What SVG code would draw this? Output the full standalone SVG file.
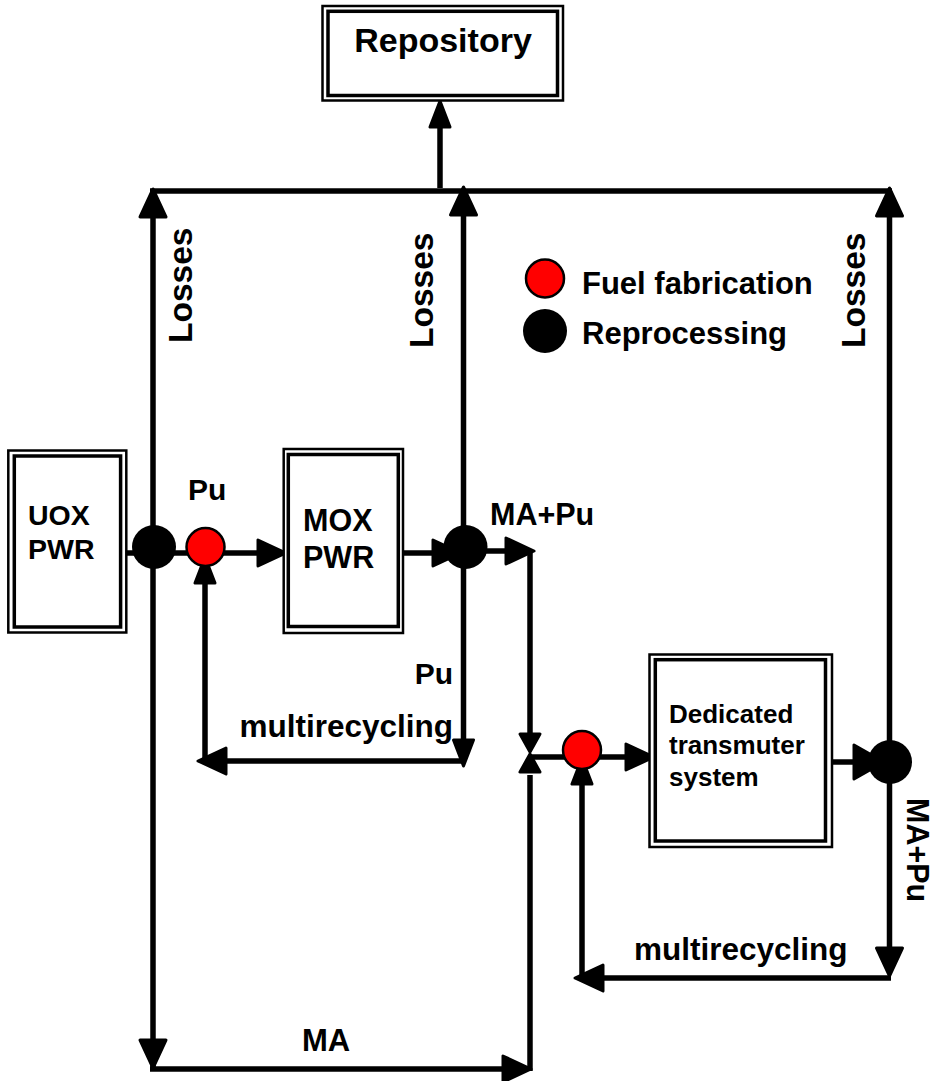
<svg xmlns="http://www.w3.org/2000/svg" xmlns:xlink="http://www.w3.org/1999/xlink" width="933" height="1081" viewBox="0 0 933 1081">
<style>
  .ln { stroke:#000; stroke-width:5.5; fill:none; }
  .ah { fill:#000; stroke:#000; stroke-width:3; stroke-linejoin:round; }
  .bo { fill:#fff; stroke:#000; stroke-width:2.5; }
  .bi { fill:none; stroke:#000; stroke-width:3.5; }
  .t { font-family:"Liberation Sans", Arial, Helvetica, sans-serif; font-weight:bold; fill:#000; }
  .rep { fill:#000; }
  .fab { fill:#ff0000; stroke:#000; stroke-width:2.5; }
</style>
<defs>
  <path id="ahL" class="ah" d="M0,0 L-28,-13 L-28,13 Z"/>
  <path id="ahS" class="ah" d="M0,0 L-26,-10 L-26,10 Z"/>
  <path id="ahW" class="ah" d="M0,0 L-30,-17 L-30,17 Z"/>
  <path id="ahB" class="ah" d="M0,0 L-18,-10 L-18,10 Z"/>
</defs>
<rect width="933" height="1081" fill="#fff"/>

<g id="connectors">
  <!-- top collector line -->
  <line class="ln" x1="150" y1="191" x2="892" y2="191"/>
  <!-- to repository -->
  <line class="ln" x1="440" y1="188" x2="440" y2="120"/>
  <use href="#ahS" transform="translate(440,101) rotate(-90)"/>
  <!-- left vertical (losses / MA) -->
  <line class="ln" x1="153" y1="191" x2="153" y2="1069"/>
  <use href="#ahL" transform="translate(153,189) rotate(-90)"/>
  <use href="#ahL" transform="translate(153,1068) rotate(90)"/>
  <!-- bottom MA line -->
  <line class="ln" x1="150" y1="1069" x2="510" y2="1069"/>
  <use href="#ahL" transform="translate(531,1069)"/>
  <line class="ln" x1="530" y1="1071" x2="530" y2="775"/>
  <use href="#ahB" transform="translate(530,754) rotate(-90)"/>
  <!-- middle vertical -->
  <line class="ln" x1="463.5" y1="191" x2="463.5" y2="745"/>
  <use href="#ahL" transform="translate(463.5,187) rotate(-90)"/>
  <use href="#ahS" transform="translate(463.5,766) rotate(90)"/>
  <!-- Pu multirecycling -->
  <line class="ln" x1="461" y1="761" x2="215" y2="761"/>
  <use href="#ahL" transform="translate(198,761) rotate(180)"/>
  <line class="ln" x1="205" y1="763" x2="205" y2="575"/>
  <use href="#ahS" transform="translate(205,557) rotate(-90)"/>
  <!-- UOX to fuel fabrication to MOX -->
  <line class="ln" x1="126" y1="553" x2="262" y2="553"/>
  <use href="#ahL" transform="translate(286,553)"/>
  <!-- MOX to reprocessing -->
  <line class="ln" x1="403" y1="553" x2="445" y2="553"/>
  <use href="#ahL" transform="translate(461,553)"/>
  <!-- MA+Pu out of MOX reprocessing -->
  <line class="ln" x1="466" y1="551" x2="512" y2="551"/>
  <use href="#ahL" transform="translate(534,551)"/>
  <line class="ln" x1="530" y1="549" x2="530" y2="735"/>
  <use href="#ahB" transform="translate(530,752) rotate(90)"/>
  <!-- into transmuter fuel fabrication -->
  <line class="ln" x1="530" y1="757" x2="582" y2="757"/>
  <line class="ln" x1="582" y1="757" x2="632" y2="757"/>
  <use href="#ahL" transform="translate(654,757)"/>
  <!-- transmuter to reprocessing -->
  <line class="ln" x1="832" y1="762" x2="858" y2="762"/>
  <use href="#ahW" transform="translate(884,762)"/>
  <!-- right vertical -->
  <line class="ln" x1="889.5" y1="191" x2="889.5" y2="960"/>
  <use href="#ahL" transform="translate(889.5,188) rotate(-90)"/>
  <use href="#ahL" transform="translate(889.5,976) rotate(90)"/>
  <!-- MA+Pu multirecycling -->
  <line class="ln" x1="891" y1="978" x2="598" y2="978"/>
  <use href="#ahL" transform="translate(575,978) rotate(180)"/>
  <line class="ln" x1="582" y1="980" x2="582" y2="775"/>
  <use href="#ahS" transform="translate(582,758) rotate(-90)"/>
</g>

<g id="repository">
  <rect class="bo" x="322.5" y="6" width="240.5" height="94.5"/>
  <rect class="bi" x="328" y="11.3" width="229.5" height="84.2"/>
  <text class="t" x="443" y="52" font-size="34" text-anchor="middle">Repository</text>
</g>

<g id="uox-pwr">
  <rect class="bo" x="8.3" y="450.5" width="118" height="182"/>
  <rect class="bi" x="14.3" y="456" width="106.3" height="171"/>
  <text class="t" x="28" y="525" font-size="28.5">UOX</text>
  <text class="t" x="28" y="559" font-size="28.5">PWR</text>
</g>

<g id="mox-pwr">
  <rect class="bo" x="283.7" y="449" width="119.3" height="184"/>
  <rect class="bi" x="288.3" y="454.5" width="110" height="172"/>
  <text class="t" x="303" y="531" font-size="30.5">MOX</text>
  <text class="t" x="303" y="568" font-size="30.5">PWR</text>
</g>

<g id="transmuter">
  <rect class="bo" x="649.5" y="654.5" width="182.5" height="192.5"/>
  <rect class="bi" x="655.3" y="659.7" width="170.2" height="181.3"/>
  <text class="t" x="669" y="723" font-size="26">Dedicated</text>
  <text class="t" x="669" y="754" font-size="26">transmuter</text>
  <text class="t" x="669" y="786" font-size="26">system</text>
</g>

<g id="reproc-uox"><circle class="rep" cx="154" cy="547" r="22"/></g>
<g id="fab-mox"><circle class="fab" cx="205.5" cy="547" r="19"/></g>
<g id="reproc-mox"><circle class="rep" cx="465.5" cy="547" r="22"/></g>
<g id="fab-transmuter"><circle class="fab" cx="582" cy="750" r="19"/></g>
<g id="reproc-transmuter"><circle class="rep" cx="890" cy="762" r="22"/></g>

<g id="legend">
  <circle class="fab" cx="545" cy="278.5" r="19"/>
  <circle class="rep" cx="545" cy="331" r="22"/>
  <text class="t" x="582" y="294" font-size="31">Fuel fabrication</text>
  <text class="t" x="582" y="344" font-size="31">Reprocessing</text>
</g>

<g id="labels">
  <text class="t" font-size="33.5" transform="translate(192,343) rotate(-90)">Losses</text>
  <text class="t" font-size="33.5" transform="translate(433,348) rotate(-90)">Losses</text>
  <text class="t" font-size="33.5" transform="translate(865,348) rotate(-90)">Losses</text>
  <text class="t" font-size="30.5" transform="translate(907,798) rotate(90)">MA+Pu</text>
  <text class="t" x="188" y="500" font-size="30">Pu</text>
  <text class="t" x="490" y="525" font-size="30.5">MA+Pu</text>
  <text class="t" x="453" y="684" font-size="30" text-anchor="end">Pu</text>
  <text class="t" x="453" y="737" font-size="31.5" text-anchor="end">multirecycling</text>
  <text class="t" x="634" y="960" font-size="31.5">multirecycling</text>
  <text class="t" x="302" y="1051" font-size="31">MA</text>
</g>
</svg>
